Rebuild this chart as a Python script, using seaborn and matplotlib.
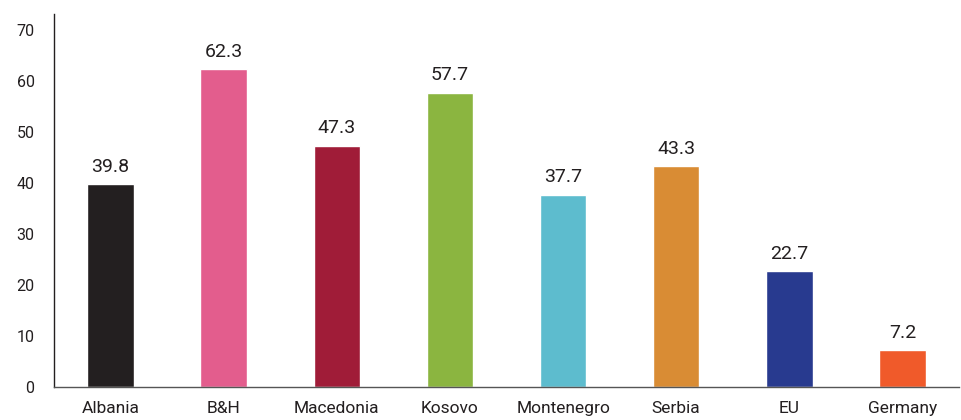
import pandas as pd
import seaborn as sns
import matplotlib.pyplot as plt

sns.set_style("white")
plt.rcParams['font.family'] = ['Roboto', 'DejaVu Sans']

countries = ["Albania", "B&H", "Macedonia", "Kosovo", "Montenegro", "Serbia", "EU", "Germany"]
values = [39.8, 62.3, 47.3, 57.7, 37.7, 43.3, 22.7, 7.2]
colors = ["#231f20", "#e35d8d", "#a01c38", "#8bb540", "#5dbcce", "#d98c34", "#283a8f", "#f05a2a"]

df = pd.DataFrame({"country": countries, "value": values})

fig = plt.figure(figsize=(9.61, 4.2), dpi=100)
ax = fig.add_axes([54 / 961, 33 / 420, 905 / 961, 373 / 420])
sns.barplot(data=df, x="country", y="value", hue="country", palette=colors,
            width=0.41, saturation=1, legend=False, ax=ax)

# value labels above bars
for i, v in enumerate(values):
    ax.annotate(f"{v:.1f}", (i, v), xytext=(0, 6), textcoords="offset points",
                ha="center", va="bottom", fontsize=14, color="#231f20")

ax.set_xlim(-0.5, 7.5)
ax.set_ylim(0, 73.1)
ax.set_yticks(range(0, 80, 10))
ax.set_xlabel("")
ax.set_ylabel("")
ax.tick_params(axis="y", length=0, labelsize=11.5, colors="#231f20", pad=14)
ax.tick_params(axis="x", length=0, labelsize=12.5, colors="#231f20", pad=10)
sns.despine(ax=ax, top=True, right=True)
ax.spines["left"].set_color("#231f20")
ax.spines["bottom"].set_color("#555555")
ax.spines["left"].set_linewidth(1)
ax.spines["bottom"].set_linewidth(1)

plt.savefig("out.png", dpi=100)
